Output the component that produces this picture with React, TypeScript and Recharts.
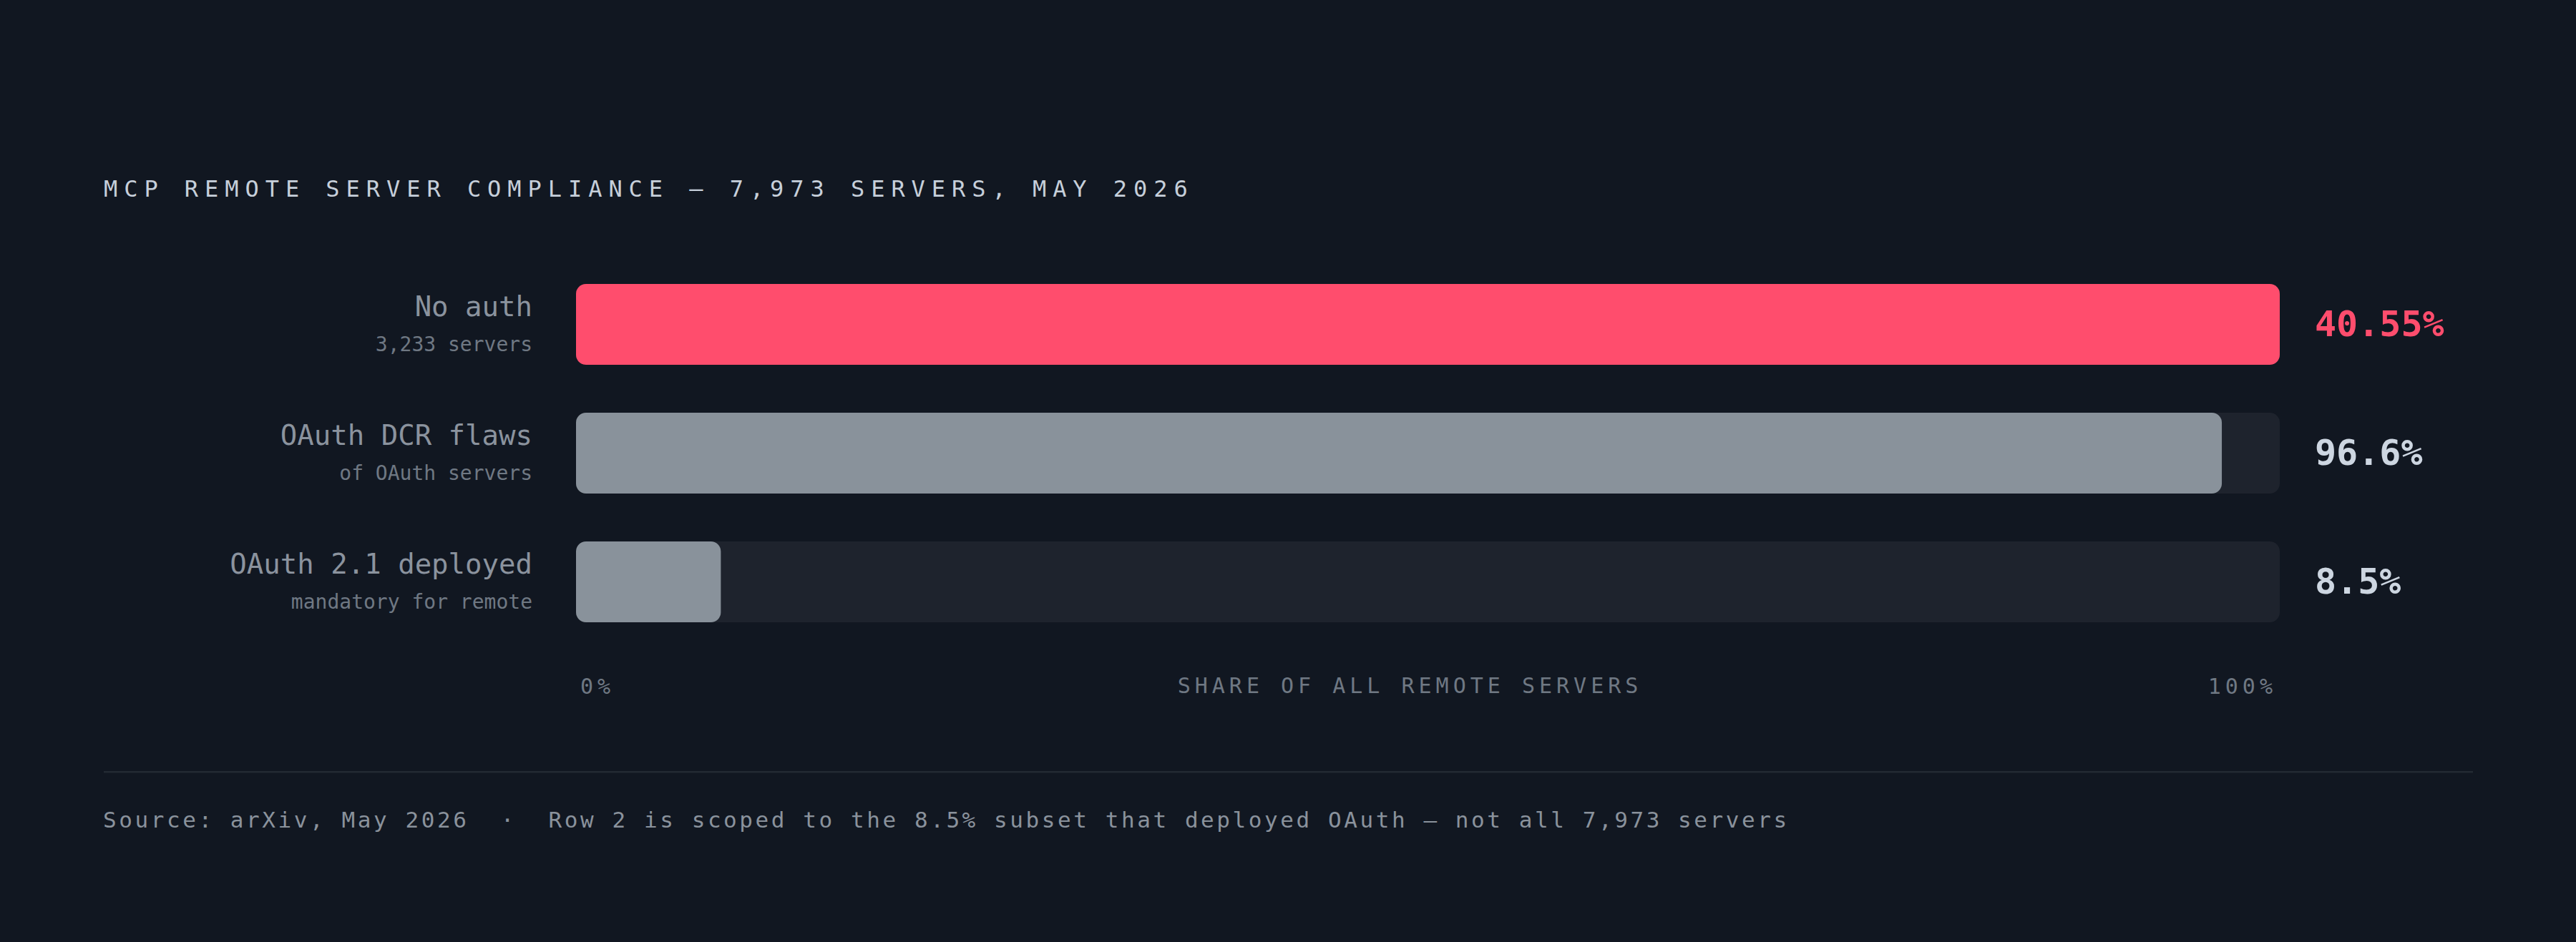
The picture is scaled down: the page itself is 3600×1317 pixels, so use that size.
import { BarChart, Bar, XAxis, YAxis, Cell } from 'recharts'

const categories = ['No auth', 'OAuth DCR flaws', 'OAuth 2.1 deployed']
const subLabels = ['3,233 servers', 'of OAuth servers', 'mandatory for remote']
const barValues = [100, 96.6, 8.5]
const valueLabels = ['40.55%', '96.6%', '8.5%']
const axisTicks = [0, 100]

const data = categories.map((name, i) => ({
  name,
  sub: subLabels[i],
  value: barValues[i],
  label: valueLabels[i],
}))

const MONO = '"DejaVu Sans Mono", "Liberation Mono", monospace'
const BG = '#111721'
const TRACK = '#1e232d'
const RED = '#ff4d6d'
const GREY = '#89929b'

const barColor = (i: number) => (i === 0 ? RED : GREY)

const CategoryTick = ({ x, y, payload }: any) => {
  const row = data[payload.index]
  return (
    <g>
      <text x={x} y={y - 11} textAnchor="end" fill="#8b939e" fontFamily={MONO} fontSize={39}>
        {row.name}
      </text>
      <text x={x} y={y + 38} textAnchor="end" fill="#6f7883" fontFamily={MONO} fontSize={28}>
        {row.sub}
      </text>
    </g>
  )
}

const ValueTick = ({ x, y, payload }: any) => {
  const row = data[payload.index]
  return (
    <text
      x={x}
      y={y + 17}
      textAnchor="start"
      fill={payload.index === 0 ? RED : '#cdd6e1'}
      fontFamily={MONO}
      fontWeight="bold"
      fontSize={50}
    >
      {row.label}
    </text>
  )
}

const PercentTick = ({ x, y, payload }: any) => (
  <text
    x={payload.value === 0 ? x + 6 : x - 4}
    y={y}
    textAnchor={payload.value === 0 ? 'start' : 'end'}
    fill="#6f7883"
    fontFamily={MONO}
    fontSize={30}
    letterSpacing={6}
  >
    {payload.value}%
  </text>
)

const ShareLabel = ({ viewBox }: any) => {
  if (!viewBox) return null
  return (
    <text
      x={viewBox.x + viewBox.width / 2 - 25}
      y={viewBox.y + 66}
      textAnchor="middle"
      fill="#6f7883"
      fontFamily={MONO}
      fontSize={30}
      letterSpacing={6}
    >
      SHARE OF ALL REMOTE SERVERS
    </text>
  )
}

const App = () => {
  return (
    <div style={{ position: 'absolute', left: 0, top: 0, width: 3600, height: 1317, background: BG }}>
      <BarChart
        width={3600}
        height={1317}
        data={data}
        layout="vertical"
        margin={{ top: 363, right: 0, bottom: 314, left: 0 }}
      >
        <XAxis
          type="number"
          domain={[0, 100]}
          ticks={axisTicks}
          height={100}
          axisLine={false}
          tickLine={false}
          tickSize={0}
          tickMargin={67}
          tick={<PercentTick />}
          label={<ShareLabel />}
        />
        <YAxis
          yAxisId="left"
          type="category"
          dataKey="name"
          width={805}
          axisLine={false}
          tickLine={false}
          tickSize={0}
          tickMargin={61}
          tick={<CategoryTick />}
        />
        <YAxis
          yAxisId="right"
          orientation="right"
          type="category"
          dataKey="name"
          width={414}
          axisLine={false}
          tickLine={false}
          tickSize={0}
          tickMargin={49}
          tick={<ValueTick />}
        />
        <Bar
          yAxisId="left"
          dataKey="value"
          barSize={113}
          radius={14}
          background={{ fill: TRACK, radius: 14 }}
          isAnimationActive={false}
        >
          {data.map((_, i) => (
            <Cell key={i} fill={barColor(i)} />
          ))}
        </Bar>
      </BarChart>
      <svg
        width={3600}
        height={1317}
        style={{ position: 'absolute', left: 0, top: 0, pointerEvents: 'none' }}
      >
        <text x={145} y={275} fill="#c6cfda" fontFamily={MONO} fontSize={32} letterSpacing={8.95}>
          MCP REMOTE SERVER COMPLIANCE — 7,973 SERVERS, MAY 2026
        </text>
        <rect x={145} y={1078} width={3311} height={2.5} fill="#232a33" />
        <text
          x={144}
          y={1157}
          fill="#8a929c"
          fontFamily={MONO}
          fontSize={31}
          letterSpacing={3.57}
          style={{ whiteSpace: 'pre' }}
        >
          {'Source: arXiv, May 2026  ·  Row 2 is scoped to the 8.5% subset that deployed OAuth — not all 7,973 servers'}
        </text>
      </svg>
    </div>
  )
}

export default App
